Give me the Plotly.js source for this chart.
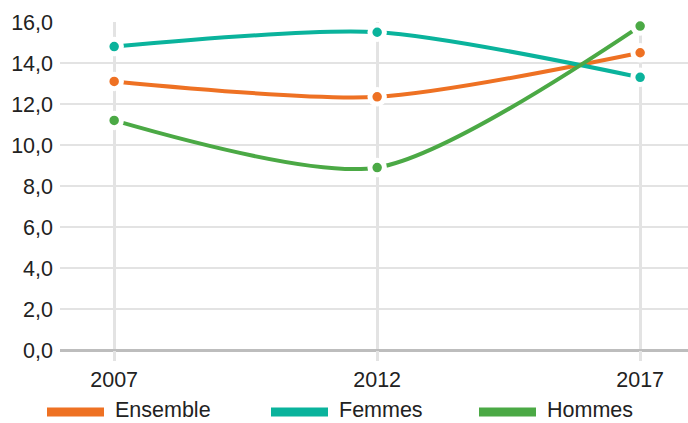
<!DOCTYPE html>
<html>
<head>
<meta charset="utf-8">
<script src="https://cdn.plot.ly/plotly-3.0.1.min.js"></script>
<style>html,body{margin:0;padding:0;background:#fff;}#chart{width:688px;height:423px;}</style>
</head>
<body>
<div id="chart"></div>
<script>
const years = [2007, 2012, 2017];
const seriesNames = ["Ensemble", "Femmes", "Hommes"];
const ensemble = [13.1, 12.35, 14.5];
const femmes = [14.8, 15.5, 13.3];
const hommes = [11.2, 8.9, 15.8];
const yTicks = [0, 2, 4, 6, 8, 10, 12, 14, 16];
const colors = ["#ee7123", "#0ab39c", "#4ba945"];

const values = [ensemble, femmes, hommes];
const traces = values.map((v, i) => ({
  x: years, y: v, name: seriesNames[i], type: "scatter", mode: "lines+markers",
  line: {color: colors[i], width: 4, shape: "spline", smoothing: 0.75},
  marker: {color: colors[i], size: 14.5, line: {color: "#ffffff", width: 5}},
  showlegend: false, hoverinfo: "skip", cliponaxis: false
}));

// legend drawn manually to match long thick swatches
const legX = [47, 271, 479];
const legY = -60 / 328;
const shapes = [], annotations = [];
seriesNames.forEach((n, i) => {
  shapes.push({type: "line", xref: "paper", yref: "paper",
    x0: (legX[i] - 60) / 628, x1: (legX[i] + 57 - 60) / 628,
    y0: legY - 2 / 328, y1: legY - 2 / 328, line: {color: colors[i], width: 9}});
  annotations.push({xref: "paper", yref: "paper", x: (legX[i] + 66 - 60) / 628, y: legY,
    xanchor: "left", yanchor: "middle", showarrow: false, text: n,
    font: {size: 21.5, color: "#222"}});
});

const layout = {
  width: 688, height: 423,
  margin: {l: 60, r: 0, t: 22, b: 73},
  paper_bgcolor: "#fff", plot_bgcolor: "#fff",
  separators: ", ",
  font: {family: "Liberation Sans, Arial, sans-serif", color: "#222", size: 21.5},
  xaxis: {range: [2005.97, 2017.91], tickvals: years, ticktext: years.map(String),
    showgrid: true, gridcolor: "#e3e3e3", gridwidth: 3, zeroline: false, showline: false,
    ticks: "outside", ticklen: 10, tickwidth: 3, tickcolor: "#e3e3e3", fixedrange: true},
  yaxis: {range: [0, 16], tickvals: yTicks, tickformat: ".1f",
    showgrid: true, gridcolor: "#e3e3e3", gridwidth: 2, zeroline: true, zerolinecolor: "#bdbdbd",
    zerolinewidth: 3, showline: false, ticks: "", ticklabelstandoff: 6, fixedrange: true},
  shapes: shapes, annotations: annotations
};
Plotly.newPlot("chart", traces, layout, {displayModeBar: false, staticPlot: true});
</script>
</body>
</html>
